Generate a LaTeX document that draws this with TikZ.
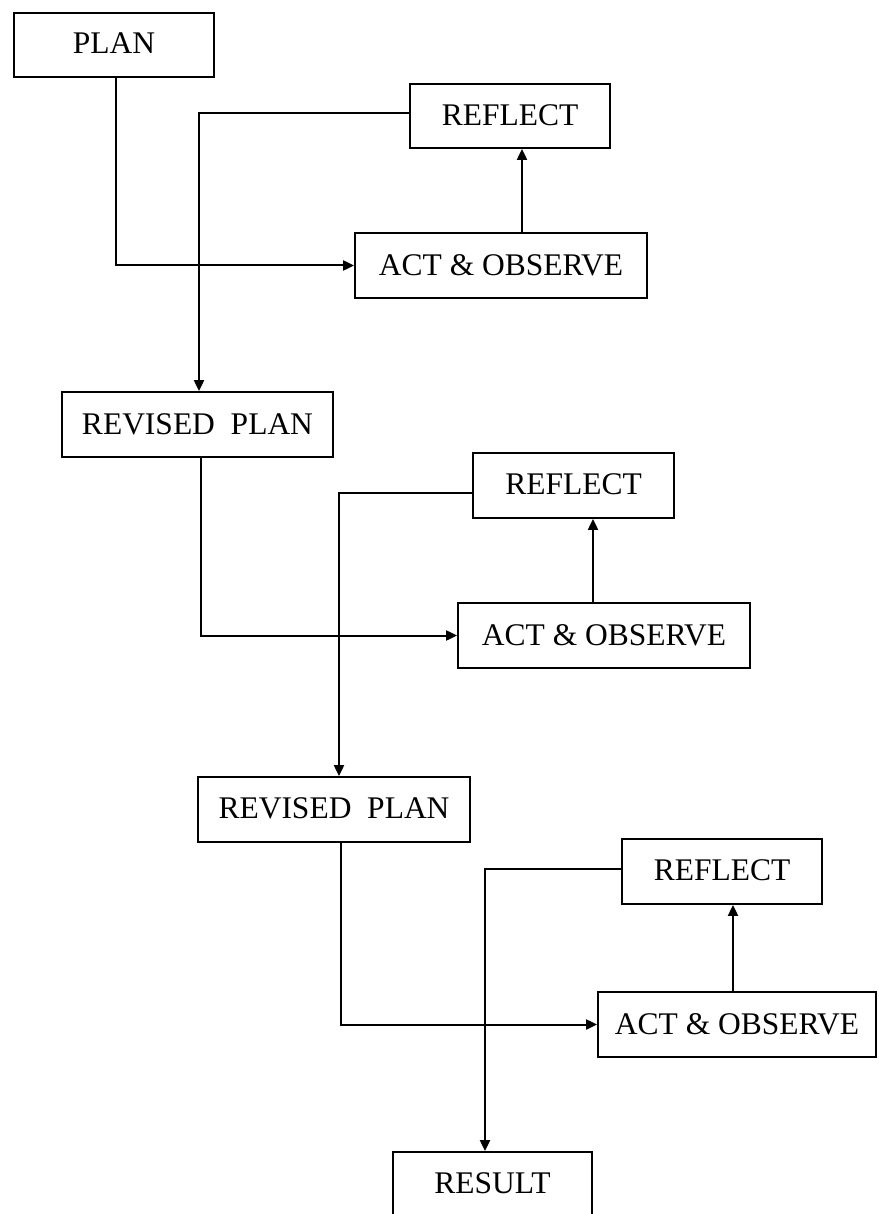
\documentclass[tikz,border=0pt]{standalone}
\usepackage{fontspec}
\setmainfont{Liberation Serif}
\usetikzlibrary{arrows.meta}
\begin{document}
\begin{tikzpicture}[x=1pt,y=-1pt,
  box/.style={draw=black, line width=1.8pt, rectangle, inner sep=0pt,
    minimum height=65pt, font=\fontsize{31.5}{36}\selectfont, text=black},
  conn/.style={draw=black, line width=2pt},
  arr/.style={conn, -{Triangle[length=11pt,width=10pt]}}]
\useasboundingbox (0,0) rectangle (878,1214);
\clip (0,0) rectangle (878,1214);
\fill[white] (0,0) rectangle (878,1214);
% nodes
\node[box, minimum width=200pt, minimum height=64pt] (plan) at (114,45) {\raisebox{4pt}{PLAN}};
\node[box, minimum width=200pt, minimum height=64pt] (refl1) at (510,116) {\raisebox{2pt}{REFLECT}};
\node[box, minimum width=292pt] (act1) at (501,265.5) {ACT \& OBSERVE};
\node[box, minimum width=271pt] (rp1) at (197.5,424.5) {REVISED\ \ PLAN};
\node[box, minimum width=201pt] (refl2) at (573.5,485.5) {\raisebox{2pt}{REFLECT}};
\node[box, minimum width=292pt] (act2) at (604,635.5) {ACT \& OBSERVE};
\node[box, minimum width=272pt] (rp2) at (334,809.5) {\raisebox{2pt}{REVISED\ \ PLAN}};
\node[box, minimum width=200pt] (refl3) at (722,871.5) {\raisebox{2pt}{REFLECT}};
\node[box, minimum width=278pt] (act3) at (737,1024.5) {ACT \& OBSERVE};
\node[box, minimum width=199pt] (result) at (492.5,1184.5) {\raisebox{2pt}{RESULT}};
% cycle 1
\draw[arr] ([xshift=2pt]plan.south) |- (act1.west);
\draw[arr] ([xshift=21pt]act1.north) -- ([xshift=21pt]act1.north |- refl1.south);
\draw[arr] ([yshift=3pt]refl1.west) -| ([xshift=1.5pt]rp1.north);
% cycle 2
\draw[arr] ([xshift=3.5pt]rp1.south) |- (act2.west);
\draw[arr] ([xshift=-11pt]act2.north) -- ([xshift=-11pt]act2.north |- refl2.south);
\draw[arr] ([yshift=-7pt]refl2.west) -| ([xshift=5pt]rp2.north);
% cycle 3
\draw[arr] ([xshift=7pt]rp2.south) |- (act3.west);
\draw[arr] ([xshift=-4pt]act3.north) -- ([xshift=-4pt]act3.north |- refl3.south);
\draw[arr] ([yshift=2.5pt]refl3.west) -| ([xshift=-7.5pt]result.north);
\end{tikzpicture}
\end{document}
